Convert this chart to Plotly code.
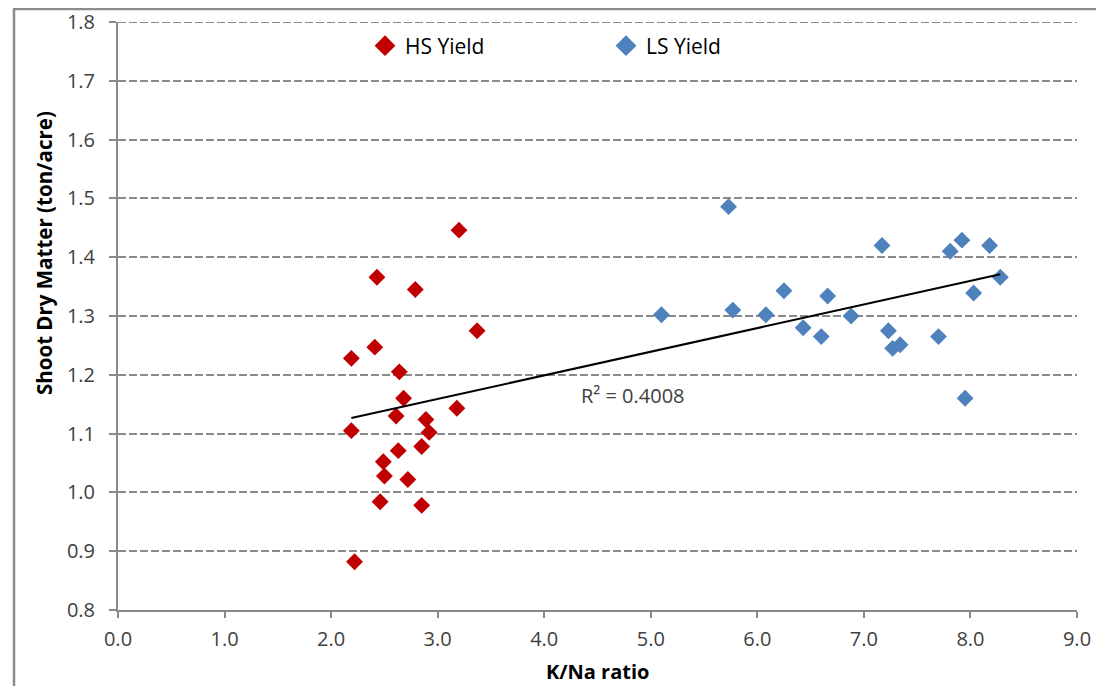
import numpy as np
import plotly.graph_objects as go

# ---- data ----
hs_x = [3.20, 2.43, 2.79, 3.37, 2.19, 2.41, 2.64, 2.68, 2.61, 3.18, 2.89,
        2.92, 2.19, 2.63, 2.85, 2.49, 2.50, 2.72, 2.46, 2.85, 2.22]
hs_y = [1.446, 1.366, 1.345, 1.275, 1.228, 1.247, 1.205, 1.160, 1.130, 1.143, 1.124,
        1.102, 1.105, 1.071, 1.078, 1.052, 1.028, 1.022, 0.984, 0.978, 0.882]

ls_x = [5.73, 5.10, 5.77, 6.08, 6.25, 6.43, 6.60, 6.66, 6.88, 7.17,
        7.23, 7.27, 7.34, 7.70, 7.81, 7.92, 8.18, 8.03, 8.28, 7.95]
ls_y = [1.486, 1.302, 1.310, 1.302, 1.343, 1.280, 1.265, 1.334, 1.300, 1.420,
        1.275, 1.245, 1.251, 1.265, 1.410, 1.429, 1.420, 1.339, 1.366, 1.160]

x_ticks = [0.0, 1.0, 2.0, 3.0, 4.0, 5.0, 6.0, 7.0, 8.0, 9.0]
y_ticks = [0.8, 0.9, 1.0, 1.1, 1.2, 1.3, 1.4, 1.5, 1.6, 1.7, 1.8]

# ---- linear trend over all points ----
all_x = np.array(hs_x + ls_x)
all_y = np.array(hs_y + ls_y)
slope, intercept = np.polyfit(all_x, all_y, 1)
tx = np.array([all_x.min(), all_x.max()])
ty = slope * tx + intercept
r2 = 0.4008

# page is offset by the default 8px body margin
OFF = 8
W, H = 1104 - 2 * OFF, 694 - 2 * OFF
P_L, P_R, P_T, P_B = 118, 1077, 22, 610   # plot area in page pixels
ML, MT = P_L - OFF, P_T - OFF
PW, PH = P_R - P_L, P_B - P_T
MR, MB = W - ML - PW, H - MT - PH


def px(xp):
    return (xp - P_L) / PW


def py(yp):
    return (P_B - yp) / PH


FONT = "Open Sans"
TXT = "#404040"
GRID = "#8a8a8a"
DASH = "8px,3px"
RED = "#C00000"
BLUE = "#4F81BD"

fig = go.Figure()
fig.add_trace(go.Scatter(
    x=hs_x, y=hs_y, mode="markers", name="HS Yield", legendgroup="hs",
    showlegend=False, marker=dict(symbol="diamond", size=13, color=RED),
))
fig.add_trace(go.Scatter(
    x=ls_x, y=ls_y, mode="markers", name="LS Yield", legendgroup="ls",
    showlegend=False, marker=dict(symbol="diamond", size=13, color=BLUE),
))
# legend entries (larger symbols, as in the original legend)
fig.add_trace(go.Scatter(
    x=[None], y=[None], mode="markers", name="HS Yield", legendgroup="hs",
    marker=dict(symbol="diamond", size=16, color=RED),
))
fig.add_trace(go.Scatter(
    x=[None], y=[None], mode="markers", name="LS Yield", legendgroup="ls",
    marker=dict(symbol="diamond", size=16, color=BLUE),
))
fig.add_trace(go.Scatter(
    x=tx, y=ty, mode="lines", showlegend=False, hoverinfo="skip",
    line=dict(color="black", width=2),
))

# top gridline (plotly drops the grid line lying on the plot edge)
fig.add_shape(type="line", xref="paper", yref="y", x0=0, x1=1,
              y0=y_ticks[-1], y1=y_ticks[-1], layer="below",
              line=dict(color=GRID, width=2, dash=DASH))

fig.add_annotation(
    x=4.33, y=1.164, xref="x", yref="y", xanchor="left", yanchor="middle",
    text="R² = %.4f" % r2, showarrow=False,
    font=dict(family=FONT, size=20, color=TXT),
)
fig.add_annotation(
    x=px(44), y=py(253), xref="paper", yref="paper", textangle=-90,
    text="<b>Shoot Dry Matter (ton/acre)</b>", showarrow=False,
    xanchor="center", yanchor="middle",
    font=dict(family=FONT, size=20.5, color="black"),
)
fig.add_annotation(
    x=px(597), y=py(671), xref="paper", yref="paper",
    text="<b>K/Na ratio</b>", showarrow=False,
    xanchor="center", yanchor="middle",
    font=dict(family=FONT, size=20, color="black"),
)

# chart-area border
fig.add_shape(type="line", xref="paper", yref="paper",
              x0=px(14), x1=px(14), y0=py(9), y1=py(720),
              line=dict(color="#8c8c8c", width=2.5))
fig.add_shape(type="line", xref="paper", yref="paper",
              x0=px(13), x1=px(1120), y0=py(9), y1=py(9),
              line=dict(color="#8c8c8c", width=2.5))

fig.update_layout(
    width=W, height=H,
    margin=dict(l=ML, r=MR, t=MT, b=MB, autoexpand=False),
    paper_bgcolor="white", plot_bgcolor="white",
    font=dict(family=FONT, color=TXT),
    legend=dict(
        orientation="h", x=px(365), y=py(46), xanchor="left", yanchor="middle",
        entrywidth=196, entrywidthmode="pixels",
        font=dict(family=FONT, size=21, color="black"),
        bgcolor="rgba(0,0,0,0)",
    ),
    xaxis=dict(
        range=[0, 9], tickvals=x_ticks, ticktext=["%.1f" % v for v in x_ticks],
        showgrid=False, zeroline=False, automargin=False,
        showline=True, linecolor=GRID, linewidth=2,
        ticks="outside", ticklen=6, tickcolor=GRID, tickwidth=2,
        ticklabelstandoff=4,
        tickfont=dict(family=FONT, size=20, color=TXT),
    ),
    yaxis=dict(
        range=[0.8, 1.8], tickvals=y_ticks, ticktext=["%.1f" % v for v in y_ticks],
        showgrid=True, gridcolor=GRID, griddash=DASH, gridwidth=2,
        zeroline=False, automargin=False,
        showline=True, linecolor=GRID, linewidth=2,
        ticks="outside", ticklen=7, tickcolor=GRID, tickwidth=2,
        ticklabelstandoff=10,
        tickfont=dict(family=FONT, size=20, color=TXT),
    ),
)

fig.write_html("out.html")
